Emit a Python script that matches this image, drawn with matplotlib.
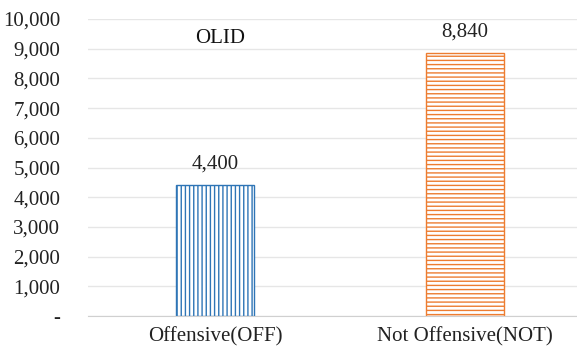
import matplotlib
matplotlib.use("Agg")
from matplotlib import pyplot as plt
from matplotlib.ticker import FuncFormatter

# data
categories = ["Offensive(OFF)", "Not Offensive(NOT)"]
counts = [4400, 8840]
barColors = ["#2E75B6", "#ED7D31"]
barHatches = ["||||", "----"]
yTicks = [0, 1000, 2000, 3000, 4000, 5000, 6000, 7000, 8000, 9000, 10000]
title = "OLID"

plt.rcParams["font.family"] = ["Liberation Serif", "DejaVu Serif"]
plt.rcParams["hatch.linewidth"] = 1.0

fig = plt.figure(figsize=(5.77, 3.48), dpi=100)
ax = fig.add_axes([88 / 577, 32 / 348, 489 / 577, 297 / 348])

positions = list(range(len(categories)))
for pos, value, color, hatch in zip(positions, counts, barColors, barHatches):
    ax.bar(pos, value, width=0.313, facecolor="white", edgecolor=color,
           hatch=hatch, linewidth=1.0, zorder=2)
    ax.text(pos, value + 400, "{:,}".format(value), ha="center",
            va="bottom", fontsize=15, color="#222222")

ax.set_xlim(-0.51, 1.45)
ax.set_ylim(0, 10000)
ax.set_yticks(yTicks)
ax.yaxis.set_major_formatter(
    FuncFormatter(lambda v, p: "-" if v == 0 else "{:,.0f}".format(v)))
ax.set_xticks(positions)
ax.set_xticklabels(categories)

ax.grid(axis="y", color="#E6E6E6", linewidth=1.0, zorder=0)
for side in ["top", "right", "left"]:
    ax.spines[side].set_visible(False)
ax.spines["bottom"].set_color("#D0D0D0")
ax.tick_params(axis="both", length=0, labelsize=15, colors="#222222")
ax.tick_params(axis="y", pad=20)
ax.tick_params(axis="x", pad=8)

ax.text(0.02, 9350, title, ha="center", va="center", fontsize=15,
        color="#111111")

fig.savefig("out.png", dpi=100)
